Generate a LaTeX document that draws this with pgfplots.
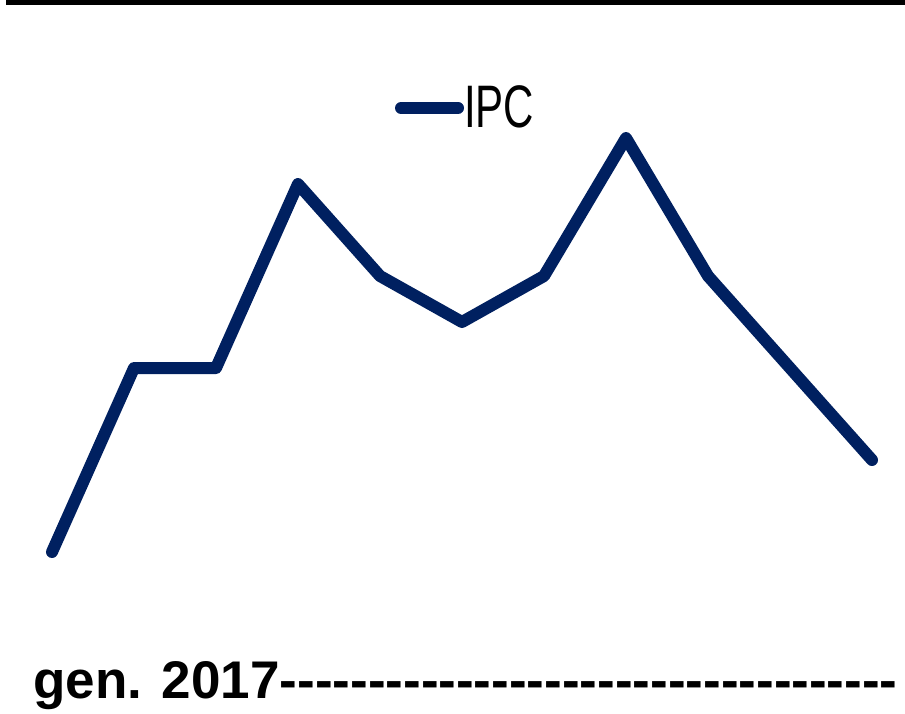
\documentclass[border=0pt]{standalone}
\usepackage{fontspec}
\usepackage{pgfplots}
\pgfplotsset{compat=1.18}
\setmainfont{Liberation Sans}
\newfontfamily\ipcfont[FakeStretch=0.7]{Liberation Sans}
\newfontfamily\labfont{Liberation Sans}
\definecolor{navy}{RGB}{0,32,96}
\begin{document}
\begin{tikzpicture}
\useasboundingbox (0,0) rectangle (452.5bp,357bp);
\fill[black] (3bp,357bp) rectangle (460bp,354.6bp);
\begin{axis}[
  at={(26bp,81bp)}, anchor=south west,
  scale only axis, width=410bp, height=207bp,
  xmin=0, xmax=10, ymin=1.0, ymax=1.9,
  clip=false,
  axis line style={draw=none},
  ytick=\empty,
  xtick={0},
  xticklabels={gen. 2017-----------------------------------},
  major tick length=0pt,
  xticklabel style={anchor=base west, inner sep=0pt, xshift=-9.5bp, yshift=-73bp,
    font=\labfont\bfseries\fontsize{26.5bp}{30bp}\selectfont},
  legend style={at={(rel axis cs:0.4183,1.0725)}, anchor=west, draw=none, fill=none,
    inner sep=0pt, outer sep=0pt, nodes={inner sep=0pt},
    font=\ipcfont\fontsize{30bp}{35bp}\selectfont},
  legend image code/.code={\draw[#1] (0bp,0bp) -- (28.5bp,0bp);},
]
\addplot[navy, line width=6bp, line join=round, line cap=round] coordinates {
(0,1.0) (1,1.4) (2,1.4) (3,1.8) (4,1.6) (5,1.5) (6,1.6) (7,1.9) (8,1.6) (9,1.4) (10,1.2)
};
\addlegendentry{IPC}
\end{axis}
\end{tikzpicture}
\end{document}
